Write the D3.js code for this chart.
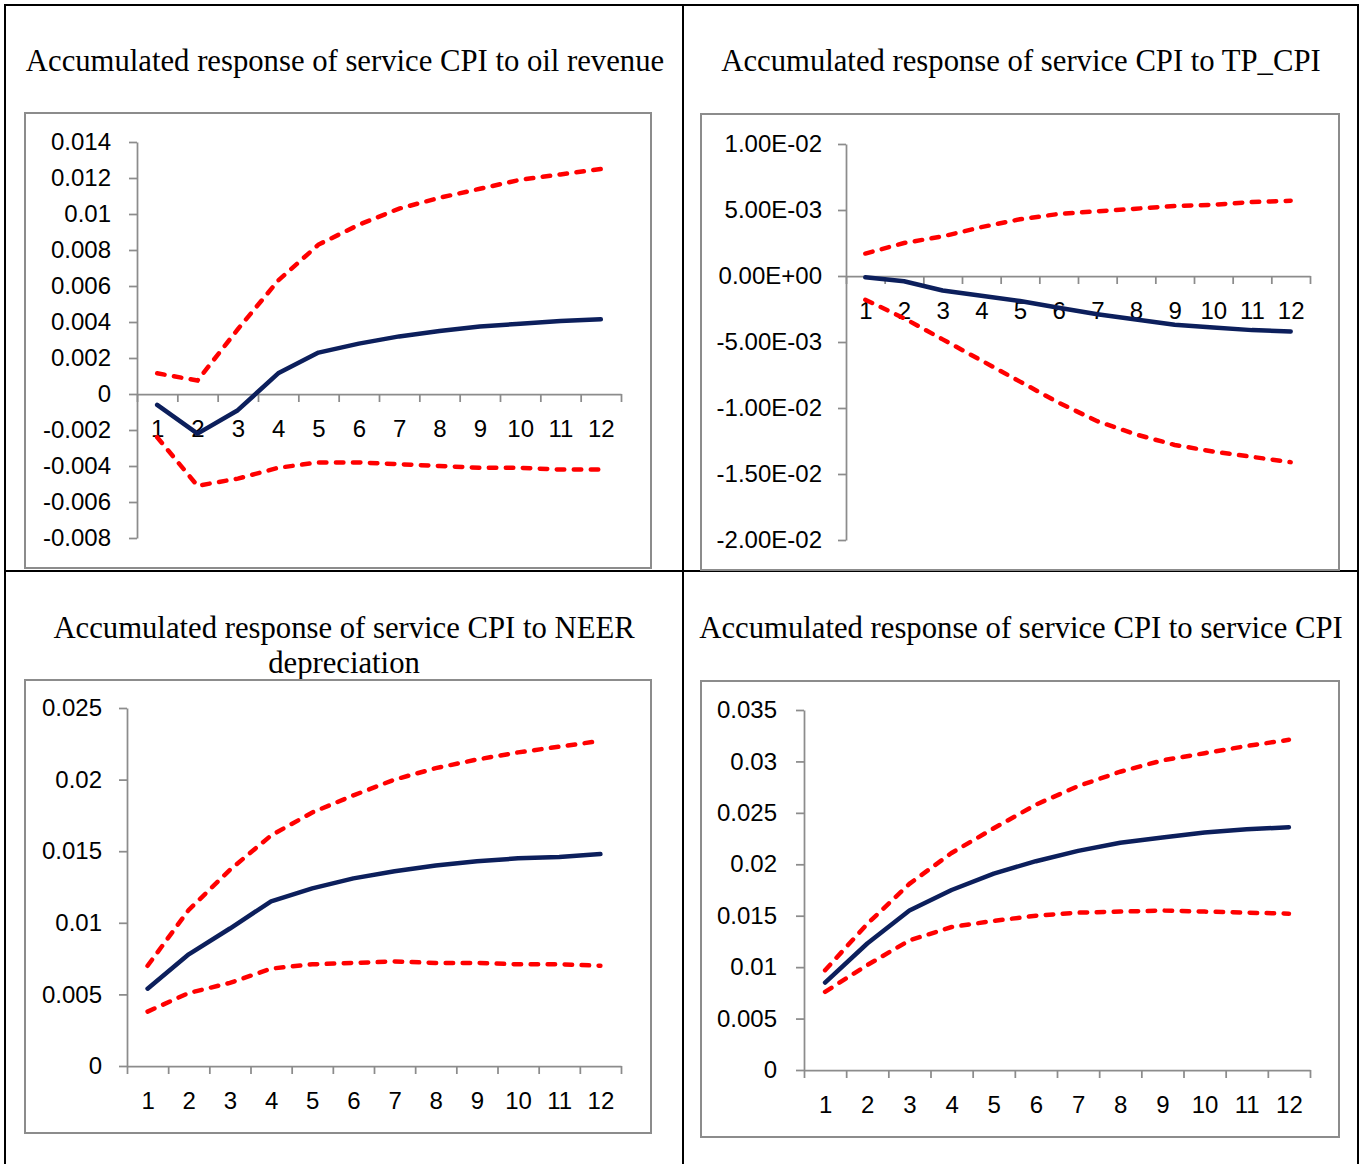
<!DOCTYPE html>
<html>
<head>
<meta charset="utf-8">
<script src="https://cdn.jsdelivr.net/npm/d3@7"></script>
<style>
  body { margin: 0; background: #fff; }
  svg { display: block; }
  .tick text { font-family: "Liberation Sans", Arial, sans-serif; font-size: 24px; fill: #000; }
  .title { font-family: "Liberation Serif", "Times New Roman", serif; font-size: 30.7px; fill: #000; }
</style>
</head>
<body>
<div class="chart"></div>
<script>
// periods after the shock
const periods = [1, 2, 3, 4, 5, 6, 7, 8, 9, 10, 11, 12];

// response to oil revenue
const oilResp  = [-0.0006, -0.0022, -0.0009, 0.00115, 0.0023, 0.0028, 0.0032, 0.0035, 0.00375, 0.0039, 0.00405, 0.00415];
const oilUpper = [0.00115, 0.00075, 0.0036, 0.0063, 0.0083, 0.0094, 0.0103, 0.0109, 0.0114, 0.0119, 0.0122, 0.0125];
const oilLower = [-0.0024, -0.0051, -0.0047, -0.0041, -0.0038, -0.0038, -0.0039, -0.0040, -0.0041, -0.0041, -0.0042, -0.0042];
const oilTicks = [-0.008, -0.006, -0.004, -0.002, 0, 0.002, 0.004, 0.006, 0.008, 0.01, 0.012, 0.014];
const oilLabels = ['-0.008', '-0.006', '-0.004', '-0.002', '0', '0.002', '0.004', '0.006', '0.008', '0.01', '0.012', '0.014'];

// response to TP_CPI
const tpResp  = [-0.0001, -0.0004, -0.0011, -0.0015, -0.0019, -0.0024, -0.0029, -0.0033, -0.0037, -0.0039, -0.0041, -0.0042];
const tpUpper = [0.0017, 0.0025, 0.0030, 0.0037, 0.0043, 0.0047, 0.0049, 0.0051, 0.0053, 0.0054, 0.0056, 0.0057];
const tpLower = [-0.0018, -0.0032, -0.0048, -0.0064, -0.0080, -0.0096, -0.0110, -0.0120, -0.0128, -0.0133, -0.0137, -0.0141];
const tpTicks = [-0.02, -0.015, -0.01, -0.005, 0, 0.005, 0.01];
const tpLabels = ['-2.00E-02', '-1.50E-02', '-1.00E-02', '-5.00E-03', '0.00E+00', '5.00E-03', '1.00E-02'];

// response to NEER depreciation
const neerResp  = [0.0054, 0.0078, 0.0096, 0.0115, 0.0124, 0.0131, 0.0136, 0.0140, 0.0143, 0.0145, 0.0146, 0.0148];
const neerUpper = [0.0070, 0.0109, 0.0137, 0.0161, 0.0177, 0.0189, 0.0200, 0.0208, 0.0214, 0.0219, 0.0223, 0.0227];
const neerLower = [0.0038, 0.0051, 0.0058, 0.0068, 0.0071, 0.0072, 0.0073, 0.0072, 0.0072, 0.0071, 0.0071, 0.0070];
const neerTicks = [0, 0.005, 0.01, 0.015, 0.02, 0.025];
const neerLabels = ['0', '0.005', '0.01', '0.015', '0.02', '0.025'];

// response to service CPI itself
const ownResp  = [0.0085, 0.0123, 0.0155, 0.0175, 0.0191, 0.0203, 0.0213, 0.0221, 0.0226, 0.0231, 0.0234, 0.0236];
const ownUpper = [0.0097, 0.0142, 0.0181, 0.0211, 0.0235, 0.0258, 0.0276, 0.0290, 0.0301, 0.0308, 0.0315, 0.0321];
const ownLower = [0.0076, 0.0102, 0.0126, 0.0139, 0.0145, 0.0150, 0.0153, 0.0154, 0.0155, 0.0154, 0.0153, 0.0152];
const ownTicks = [0, 0.005, 0.01, 0.015, 0.02, 0.025, 0.03, 0.035];
const ownLabels = ['0', '0.005', '0.01', '0.015', '0.02', '0.025', '0.03', '0.035'];

// layout of the four panels (box = grey chart frame)
const panels = [
  { title: ['Accumulated response of service CPI to oil revenue'], tx: 345, ty: 71,
    box: [25, 113, 651, 568], x0: 137, x1: 621, yTop: 142, yBot: 538, pad: 18,
    resp: oilResp, upper: oilUpper, lower: oilLower, ticks: oilTicks, labels: oilLabels },
  { title: ['Accumulated response of service CPI to TP_CPI'], tx: 1021, ty: 71,
    box: [701, 114, 1339, 570], x0: 846, x1: 1310, yTop: 144, yBot: 540, pad: 16,
    resp: tpResp, upper: tpUpper, lower: tpLower, ticks: tpTicks, labels: tpLabels },
  { title: ['Accumulated response of service CPI to NEER', 'depreciation'], tx: 344, ty: 638,
    box: [25, 680, 651, 1133], x0: 127, x1: 621, yTop: 708, yBot: 1066, pad: 17,
    resp: neerResp, upper: neerUpper, lower: neerLower, ticks: neerTicks, labels: neerLabels },
  { title: ['Accumulated response of service CPI to service CPI'], tx: 1021, ty: 638,
    box: [701, 681, 1339, 1137], x0: 804, x1: 1310, yTop: 710, yBot: 1070, pad: 19,
    resp: ownResp, upper: ownUpper, lower: ownLower, ticks: ownTicks, labels: ownLabels }
];

const width = 1360;
const height = 1164;

const svg = d3.select('.chart')
  .append('svg')
    .attr('width', width)
    .attr('height', height);

// table grid
const grid = svg.append('g')
  .attr('stroke', '#000')
  .attr('stroke-width', 2);
[[5, 5, 1358, 5], [5, 571, 1358, 571], [5, 4, 5, 1164], [683, 4, 683, 1164], [1358, 4, 1358, 1164]]
  .forEach(l => grid.append('line')
    .attr('x1', l[0]).attr('y1', l[1]).attr('x2', l[2]).attr('y2', l[3]));

panels.forEach(p => {
  const g = svg.append('g');

  // title
  const title = g.append('text')
    .attr('class', 'title')
    .attr('text-anchor', 'middle')
    .attr('x', p.tx)
    .attr('y', p.ty);
  p.title.forEach((t, i) => title.append('tspan')
    .attr('x', p.tx)
    .attr('dy', i === 0 ? 0 : 35)
    .text(t));

  // chart frame
  g.append('rect')
    .attr('x', p.box[0])
    .attr('y', p.box[1])
    .attr('width', p.box[2] - p.box[0])
    .attr('height', p.box[3] - p.box[1])
    .attr('fill', '#fff')
    .attr('stroke', '#8c8c8c')
    .attr('stroke-width', 2);

  const xScale = d3.scaleLinear()
    .domain([0.5, 12.5])
    .range([p.x0, p.x1]);

  const yScale = d3.scaleLinear()
    .domain([p.ticks[0], p.ticks[p.ticks.length - 1]])
    .range([p.yBot, p.yTop]);

  const zeroY = yScale(0);

  // y-axis
  g.append('g')
    .attr('transform', `translate(${p.x0}, 0)`)
    .call(d3.axisLeft(yScale)
      .tickValues(p.ticks)
      .tickFormat((d, i) => p.labels[i])
      .tickSize(8)
      .tickSizeOuter(0)
      .tickPadding(p.pad));

  // x-axis: tick marks between periods
  g.append('g')
    .attr('transform', `translate(0, ${zeroY})`)
    .call(d3.axisBottom(xScale)
      .tickValues(d3.range(0.5, 13, 1))
      .tickFormat('')
      .tickSize(8)
      .tickSizeOuter(0));

  // x-axis: period labels
  g.append('g')
    .attr('transform', `translate(0, ${zeroY})`)
    .call(d3.axisBottom(xScale)
      .tickValues(periods)
      .tickFormat(d3.format('d'))
      .tickSize(0)
      .tickPadding(26))
    .call(a => a.select('.domain').remove());

  g.selectAll('.domain, .tick line')
    .attr('stroke', '#8c8c8c')
    .attr('stroke-width', 1.75);

  const drawLine = d3.line()
    .x((d, i) => xScale(periods[i]))
    .y(d => yScale(d));

  // confidence bands
  [p.upper, p.lower].forEach(band => {
    g.append('path')
      .attr('d', drawLine(band))
      .style('fill', 'none')
      .style('stroke', '#ff0000')
      .style('stroke-width', 4.5)
      .style('stroke-linecap', 'round')
      .style('stroke-dasharray', '7.5,9.5');
  });

  // point response
  g.append('path')
    .attr('d', drawLine(p.resp))
    .style('fill', 'none')
    .style('stroke', '#0c1f5c')
    .style('stroke-width', 4.5)
    .style('stroke-linecap', 'round')
    .style('stroke-linejoin', 'round');
});
</script>
</body>
</html>
